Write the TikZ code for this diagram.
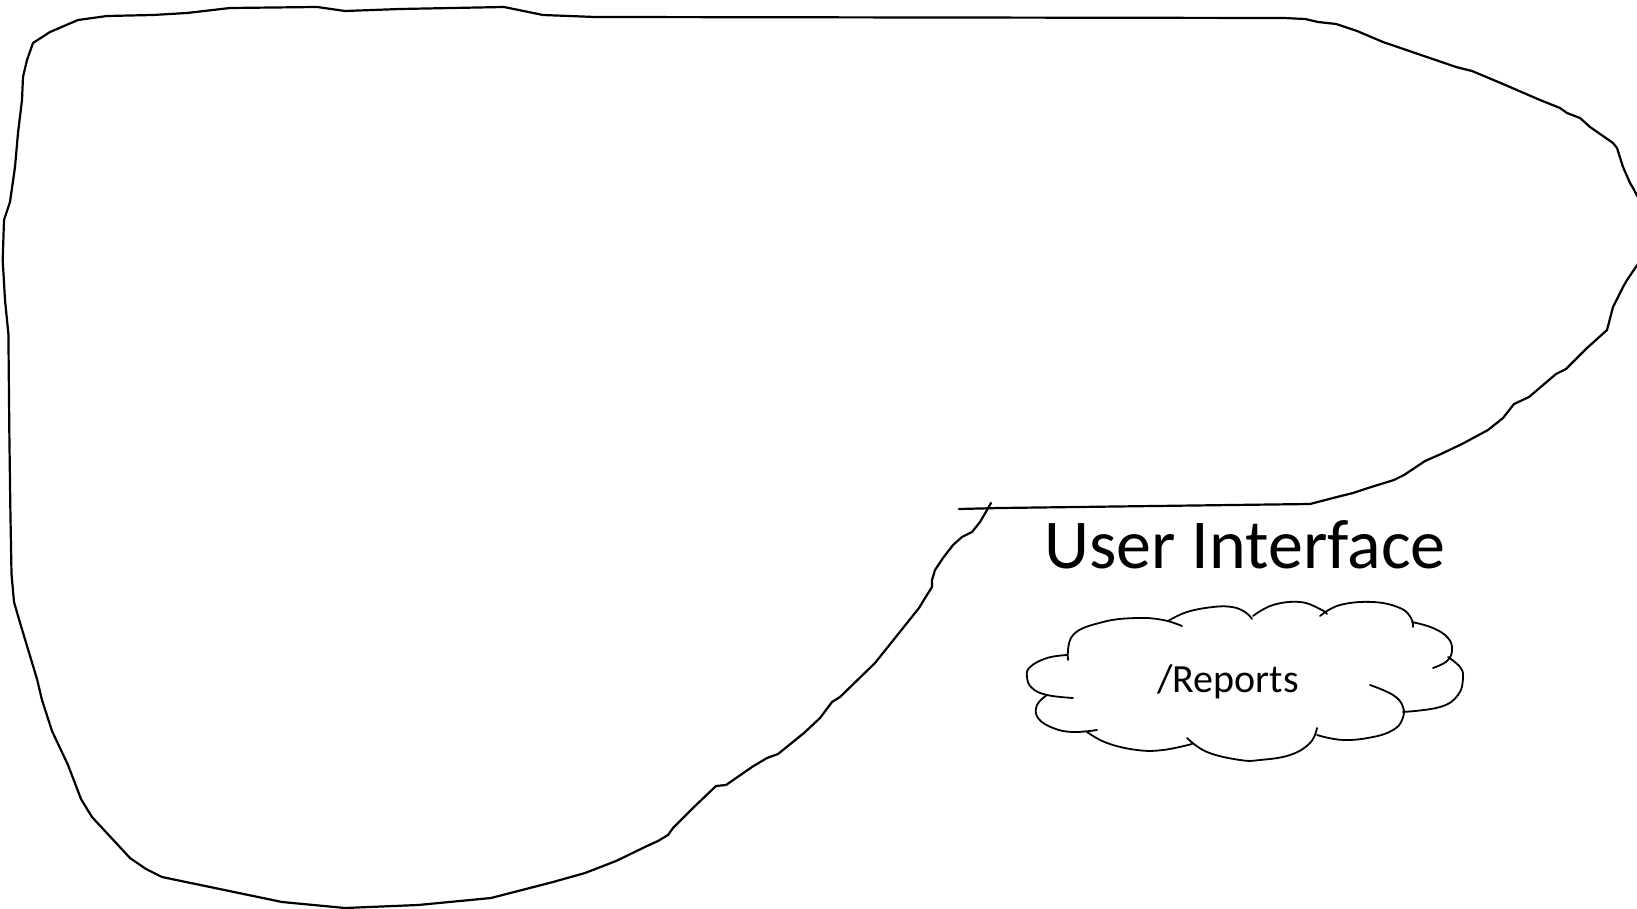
\documentclass[tikz,border=0pt]{standalone}
\usepackage{fontspec}
\setmainfont{Carlito}
\usetikzlibrary{calc}

\begin{document}
\begin{tikzpicture}[x=0.5pt, y=-0.5pt,
    outline/.style={draw=black, line width=1.1pt, line join=round, line cap=round},
    puff/.style={draw=black, line width=0.9pt, line cap=round},
    titletext/.style={font=\fontsize{35}{42}\selectfont, anchor=base, inner sep=0pt},
    cloudtext/.style={font=\fontsize{20}{24}\selectfont, anchor=base, inner sep=0pt}]

\useasboundingbox (0,0) rectangle (1637,909);

%
\draw[outline] plot coordinates {
    (991,503) (987,510) (980,522) (972,532) (962,537) (953,545) (943,558)
    (935,570) (932,580) (932,587) (925,598) (919,608) (875,663) (840,697)
    (832,702) (820,718) (804,733) (778,754) (767,758) (752,767) (726,785)
    (716,786) (694,807) (673,828) (668,835) (658,841) (647,846) (616,861)
    (585,873) (553,882) (491,898) (418,905) (345,908) (282,902) (162,877)
    (146,869) (130,858) (92,817) (81,799) (73,778) (68,765) (52,731)
    (42,700) (37,679) (21,626) (14,602) (11.5,574) (10.4,512) (9.4,438)
    (8.4,334) (5,300) (2.7,260) (4,220) (10,202) (15,167) (18,133)
    (22,100) (23,77) (27,60) (33,43) (50,32) (78,20) (107,16) (153,15)
    (187,13) (230,8) (317,7) (345,11) (400,9) (504,7) (543,15) (595,17)
    (1284,18) (1305,19) (1318,22) (1336,24) (1357,31) (1383,42) (1456,67)
    (1472,71) (1503,84) (1540,100) (1560,108) (1567,113) (1580,118)
    (1590,127) (1613,143) (1617,148) (1623,167) (1630,183) (1633,188)
    (1642,205) (1642,258) (1627,280) (1623,287) (1613,307) (1607,330)
    (1587,348) (1566,369) (1556,374) (1529,397) (1514,404) (1503,418)
    (1488,430) (1462,444) (1441,454) (1425,461) (1404,475) (1394,480)
    (1368,488) (1353,493) (1333,498) (1310,504) (1000,508) (959,509)};

%
\node[titletext] (ui) at (1245,568) {User Interface};

%
\draw[puff] plot[smooth, tension=0.7] coordinates {(1068,660) (1073,635) (1103,622) (1137,618) (1163,620) (1182,626)};
\draw[puff] plot[smooth, tension=0.7] coordinates {(1168,621) (1187,612) (1213,607) (1232,607) (1245,612) (1252,619)};
\draw[puff] plot[smooth, tension=0.7] coordinates {(1253,616) (1273,605) (1300,602) (1320,609) (1327,614)};
\draw[puff] plot[smooth, tension=0.7] coordinates {(1320,616) (1340,605) (1373,602) (1400,608) (1411,618) (1413,627)};
\draw[puff] plot[smooth, tension=0.7] coordinates {(1412,622) (1433,628) (1448,638) (1452,650) (1447,661) (1433,668)};
\draw[puff] plot[smooth, tension=0.7] coordinates {(1448,657) (1460,667) (1463,678) (1458,695) (1440,707) (1403,712)};
\draw[puff] plot[smooth, tension=0.7] coordinates {(1370,685) (1393,695) (1403,707) (1402,720) (1393,730) (1373,737) (1343,740) (1317,735)};
\draw[puff] plot[smooth, tension=0.7] coordinates {(1317,728) (1310,743) (1290,755) (1260,760) (1240,760) (1207,752) (1187,738)};
\draw[puff] plot[smooth, tension=0.7] coordinates {(1087,732) (1107,743) (1137,750) (1163,750) (1192,744)};
\draw[puff] plot[smooth, tension=0.7] coordinates {(1047,695) (1037,705) (1038,718) (1053,728) (1073,732) (1097,730)};
\draw[puff] plot[smooth, tension=0.7] coordinates {(1067,655) (1047,658) (1030,667) (1027,677) (1032,688) (1047,695) (1073,698)};
\node[cloudtext] (reports) at (1228,692) {/Reports};
\end{tikzpicture}
\end{document}
